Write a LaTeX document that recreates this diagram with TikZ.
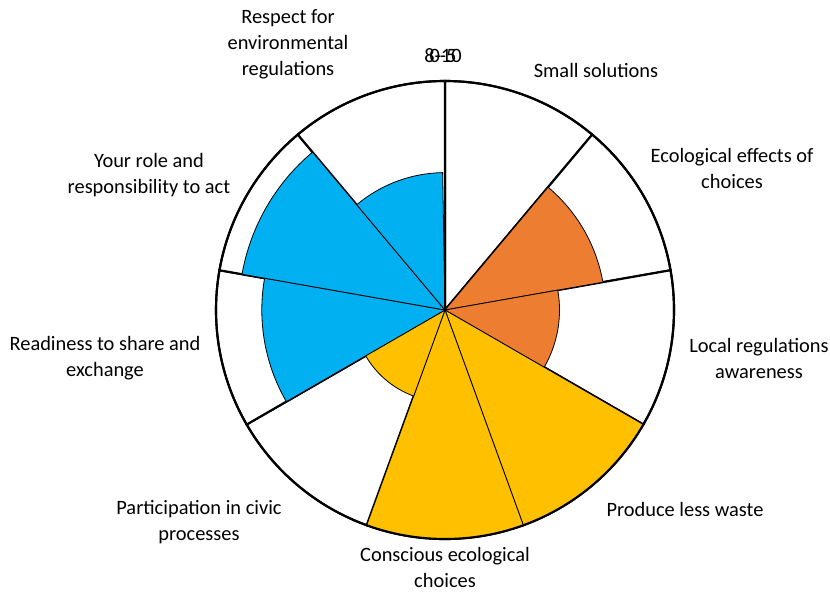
\documentclass[tikz,border=0pt]{standalone}
\usepackage{fontspec}
\setmainfont{Carlito}
\usepackage{tikz}
\usepackage{color}

\definecolor{petalblue}{HTML}{00B0F0}
\definecolor{petalorange}{HTML}{ED7D31}
\definecolor{petalyellow}{HTML}{FFC000}

\tikzset{
  frame/.style={draw=black, line width=1.6pt, fill=white},
  petal/.style={draw=black, line width=0.6pt},
  lbl/.style={align=center, font=\fontsize{15.3}{19.5}\selectfont, inner sep=0pt}
}

\begin{document}
\begin{tikzpicture}[x=7.5pt,y=7.5pt]
              \useasboundingbox (0,0) rectangle (83,-59.2);
              \coordinate (c) at (44.5,-31.0);
              % outer frame, one white sector per item
              \foreach \a in {90,50,10,-30,-70,-110,-150,-190,-230}
                \draw [frame] (c) -- ++(\a:22.9) arc [start angle=\a, delta angle=-40, radius=22.9] -- cycle;
              % scores
              \foreach \a/\b/\r/\col in {50/10/0.7/petalorange, 10/-30/0.5/petalorange,
                  -30/-70/1/petalyellow, -70/-110/1/petalyellow, -110/-150/0.4/petalyellow,
                  -150/-190/0.8/petalblue, -190/-230/0.9/petalblue, -230/-269/0.6/petalblue}
                \draw [petal, fill=\col] (c) -- ++(\a:22.9*\r) arc [start angle=\a, end angle=\b, radius=22.9*\r] -- cycle;
              \draw [black, line width=1.6pt] (c) -- ++(90:22.9);
              \draw [black, line width=1.6pt] (c) ++(90:22.9) arc [start angle=90, end angle=-270, radius=22.9];
              % axis labels overprinted
              \node [lbl] (axisa) at (44.3,-5.6) {8-10};
              \node [lbl] (axisb) at (44.3,-5.6) {0-5};
              % item labels
              \node [lbl] (respect) at (28.8,-4.4) {Respect for\\environmental\\regulations};
              \node [lbl] (small) at (59.6,-7.0) {Small solutions};
              \node [lbl] (effects) at (73.2,-16.8) {Ecological effects of\\choices};
              \node [lbl] (local) at (75.9,-35.8) {Local regulations\\awareness};
              \node [lbl] (waste) at (68.5,-50.9) {Produce less waste};
              \node [lbl] (conscious) at (44.5,-56.7) {Conscious ecological\\choices};
              \node [lbl] (civic) at (19.9,-52.2) {Participation in civic\\processes};
              \node [lbl] (share) at (10.5,-35.8) {Readiness to share and\\exchange};
              \node [lbl] (role) at (14.9,-17.5) {Your role and\\responsibility to act};
            \end{tikzpicture}
\end{document}
